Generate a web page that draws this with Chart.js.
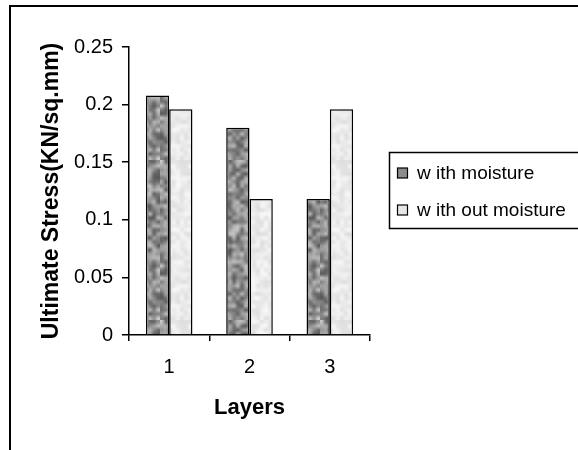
<!DOCTYPE html>
<html>
<head>
<meta charset="utf-8">
<script src="https://cdn.jsdelivr.net/npm/chart.js@4/dist/chart.umd.min.js"></script>
<style>
html,body{margin:0;padding:0;background:#fff;}
#wrap{width:578px;height:450px;}
</style>
</head>
<body>
<div id="wrap"><canvas id="c" width="578" height="450"></canvas></div>
<script>
// ---- data ----
const categories = ['1', '2', '3'];
const withMoisture = [0.208, 0.180, 0.118];
const withoutMoisture = [0.196, 0.118, 0.196];
const seriesNames = ['w ith moisture', 'w ith out moisture'];
const yTickValues = [0, 0.05, 0.1, 0.15, 0.2, 0.25];
const xTitle = 'Layers';
const yTitle = 'Ultimate Stress(KN/sq.mm)';

// ---- mottled texture patterns (deterministic hash noise) ----
function hash(i, j, s) {
  let h = (i * 374761393 + j * 668265263 + s * 982451653) | 0;
  h = Math.imul(h ^ (h >>> 13), 1274126177);
  h = h ^ (h >>> 16);
  return ((h >>> 0) % 1000) / 1000;
}
function makePattern(lo, hi, seed) {
  const n = 40, size = 160;
  const small = document.createElement('canvas');
  small.width = n; small.height = n;
  const sctx = small.getContext('2d');
  const img = sctx.createImageData(n, n);
  for (let y = 0; y < n; y++) for (let x = 0; x < n; x++) {
    const r = hash(x, y, seed);
    const v = Math.round(lo + (hi - lo) * r);
    const k = (y * n + x) * 4;
    img.data[k] = v; img.data[k + 1] = v; img.data[k + 2] = v; img.data[k + 3] = 255;
  }
  sctx.putImageData(img, 0, 0);
  const big = document.createElement('canvas');
  big.width = size; big.height = size;
  const bctx = big.getContext('2d');
  bctx.imageSmoothingEnabled = true;
  bctx.drawImage(small, 0, 0, size, size);
  return bctx.createPattern(big, 'repeat');
}
const darkPattern = makePattern(85, 200, 7);
const lightPattern = makePattern(220, 250, 3);

// ---- plugins ----
const framePlugin = {
  id: 'frame',
  beforeDraw(chart) {
    const ctx = chart.ctx;
    ctx.save();
    ctx.fillStyle = '#fff';
    ctx.fillRect(0, 0, chart.width, chart.height);
    ctx.strokeStyle = '#000';
    ctx.lineWidth = 2;
    ctx.strokeRect(10, 6, 700, 600);
    ctx.restore();
  }
};
const legendPlugin = {
  id: 'customLegend',
  afterDraw(chart) {
    const ctx = chart.ctx;
    ctx.save();
    const bx = 389.5, by = 152.5, bw = 200, bh = 76;
    ctx.fillStyle = '#fff';
    ctx.fillRect(bx, by, bw, bh);
    ctx.strokeStyle = '#000';
    ctx.lineWidth = 1.5;
    ctx.strokeRect(bx, by, bw, bh);
    const rows = [173, 210];
    chart.data.datasets.forEach((ds, i) => {
      const cy = rows[i];
      ctx.fillStyle = i === 0 ? '#8c8c8c' : '#e6e6e6';
      ctx.fillRect(397.5, cy - 5, 10, 10);
      ctx.lineWidth = 1.2;
      ctx.strokeStyle = '#000';
      ctx.strokeRect(397.5, cy - 5, 10, 10);
      ctx.fillStyle = '#000';
      ctx.font = '19px "Liberation Sans", Arial, sans-serif';
      ctx.textBaseline = 'middle';
      ctx.textAlign = 'left';
      ctx.fillText(ds.label, 417, cy + 1);
    });
    ctx.restore();
  }
};

new Chart(document.getElementById('c'), {
  type: 'bar',
  data: {
    labels: categories,
    datasets: [
      { label: seriesNames[0], data: withMoisture, backgroundColor: darkPattern, borderColor: '#000', borderWidth: 1.5, borderSkipped: 'bottom' },
      { label: seriesNames[1], data: withoutMoisture, backgroundColor: lightPattern, borderColor: '#000', borderWidth: 1.5, borderSkipped: 'bottom' }
    ]
  },
  options: {
    responsive: false,
    animation: false,
    devicePixelRatio: 1,
    layout: { padding: { left: 0, top: 47, right: 208, bottom: 0 } },
    datasets: { bar: { categoryPercentage: 0.58, barPercentage: 1.0 } },
    plugins: { legend: { display: false }, tooltip: { enabled: false } },
    scales: {
      x: {
        afterFit(scale) { scale.height = 115; },
        grid: { display: true, drawOnChartArea: false, drawTicks: true, tickLength: 6, color: '#000', lineWidth: 1.5, offset: true },
        border: { display: true, color: '#000', width: 1.5 },
        ticks: { color: '#000', padding: 14, font: { family: '"Liberation Sans", Arial, sans-serif', size: 20 } },
        title: { display: true, text: xTitle, color: '#000', padding: { top: 29, bottom: 29 }, font: { family: '"Liberation Sans", Arial, sans-serif', size: 22, weight: 'bold' } }
      },
      y: {
        min: 0, max: 0.25,
        afterFit(scale) { scale.width = 129; },
        afterBuildTicks(scale) { scale.ticks = yTickValues.map(v => ({ value: v })); },
        grid: { display: true, drawOnChartArea: false, drawTicks: true, tickLength: 7, color: '#000', lineWidth: 1.5 },
        border: { display: true, color: '#000', width: 1.5 },
        ticks: { color: '#000', padding: 9, font: { family: '"Liberation Sans", Arial, sans-serif', size: 20 }, callback: v => String(v) },
        title: { display: true, text: yTitle, color: '#000', padding: { top: 38, bottom: 38 }, font: { family: '"Liberation Sans", Arial, sans-serif', size: 23, weight: 'bold' } }
      }
    }
  },
  plugins: [framePlugin, legendPlugin]
});
</script>
</body>
</html>
